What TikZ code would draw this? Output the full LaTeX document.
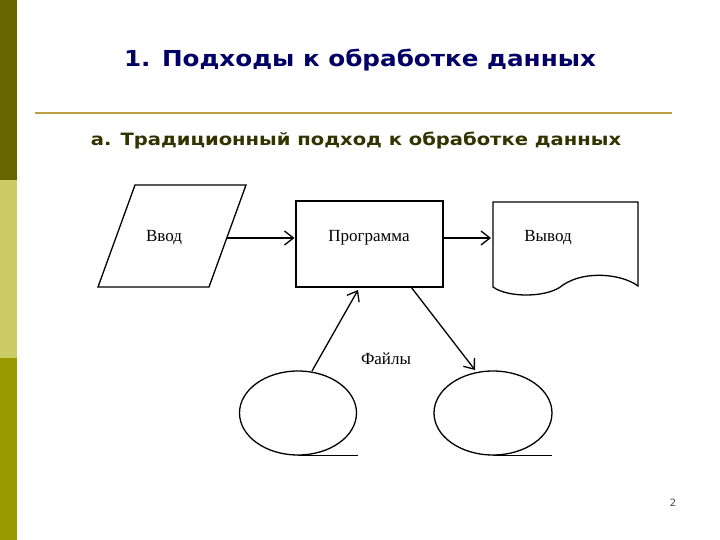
\documentclass[tikz,border=0pt]{standalone}
\usepackage{fontspec}
\setmainfont{Liberation Serif}
\newfontfamily\headfont{DejaVu Sans}
\usetikzlibrary{arrows.meta,shapes.geometric}
\definecolor{bardark}{HTML}{666600}
\definecolor{barlight}{HTML}{CCCC66}
\definecolor{barmid}{HTML}{999900}
\definecolor{titleblue}{HTML}{000066}
\definecolor{subdark}{HTML}{333300}
\definecolor{rulegold}{HTML}{BFA040}
\tikzset{
  shapeline/.style={draw=black, line width=1.3pt},
  conn/.style={line width=1.3pt, -{Straight Barb[length=9pt,width=14pt,line width=1.3pt]}},
  lbl/.style={font=\fontsize{17}{19}\selectfont, inner sep=0pt},
}
\begin{document}
\begin{tikzpicture}[x=1pt,y=-1pt]
\useasboundingbox (0,0) rectangle (720,540);
\fill[white] (0,0) rectangle (720,540);
% side bar
\fill[bardark] (0,0) rectangle (17,180);
\fill[barlight] (0,180) rectangle (17,358);
\fill[barmid] (0,358) rectangle (17,540);
% title
\node[font=\headfont\bfseries\fontsize{22}{26}\selectfont, text=titleblue, inner sep=0pt, xscale=1.12] (title) at (360,60) {1. Подходы к обработке данных};
\draw[rulegold, line width=2pt] (35,113.5) -- (672,113.5);
\node[font=\headfont\bfseries\fontsize{17}{20}\selectfont, text=subdark, inner sep=0pt, xscale=1.15] (sub) at (356,141) {a. Традиционный подход к обработке данных};
% input parallelogram
\draw[shapeline] (135,185) -- (246,185) -- (209,287) -- (98,287) -- cycle;
\node[lbl] (vvod) at (164,238) {Ввод};
\coordinate (inR) at (227,238);
% program
\node[shapeline, minimum width=147pt, minimum height=86pt, inner sep=0pt] (prog) at (369.5,244) {};
\node[lbl] (progt) at (369,238) {Программа};
% output document
\draw[shapeline] (493,202) -- (638,202) -- (638,286)
  .. controls (622,274) and (585,270) .. (563,285)
  .. controls (548,298) and (508,298) .. (493,287) -- cycle;
\node[lbl] (vyvod) at (548,238) {Вывод};
% files
\node[shapeline, ellipse, minimum width=117pt, minimum height=84pt, inner sep=0pt] (f1) at (298,413) {};
\node[shapeline, ellipse, minimum width=118pt, minimum height=84pt, inner sep=0pt] (f2) at (493,413) {};
\draw[line width=1pt] (f1.south) -- ++(60,0);
\draw[line width=1pt] (f2.south) -- ++(59,0);
\node[lbl] (files) at (386,359) {Файлы};
% connectors
\coordinate (progL) at (294.5,238);
\coordinate (docL) at (491,238);
\coordinate (progR) at (443,238);
\coordinate (f1top) at (312,371);
\coordinate (progB1) at (358,290);
\coordinate (progB2) at (411,287);
\coordinate (f2top) at (475,370);
\draw[conn] (inR) -- (progL);
\draw[conn] (progR) -- (docL);
\draw[conn] (f1top) -- (progB1);
\draw[conn] (progB2) -- (f2top);
% page number
\node[font=\headfont\fontsize{10}{12}\selectfont, text=black!70, inner sep=0pt] (pg) at (673,503) {2};
\end{tikzpicture}
\end{document}
